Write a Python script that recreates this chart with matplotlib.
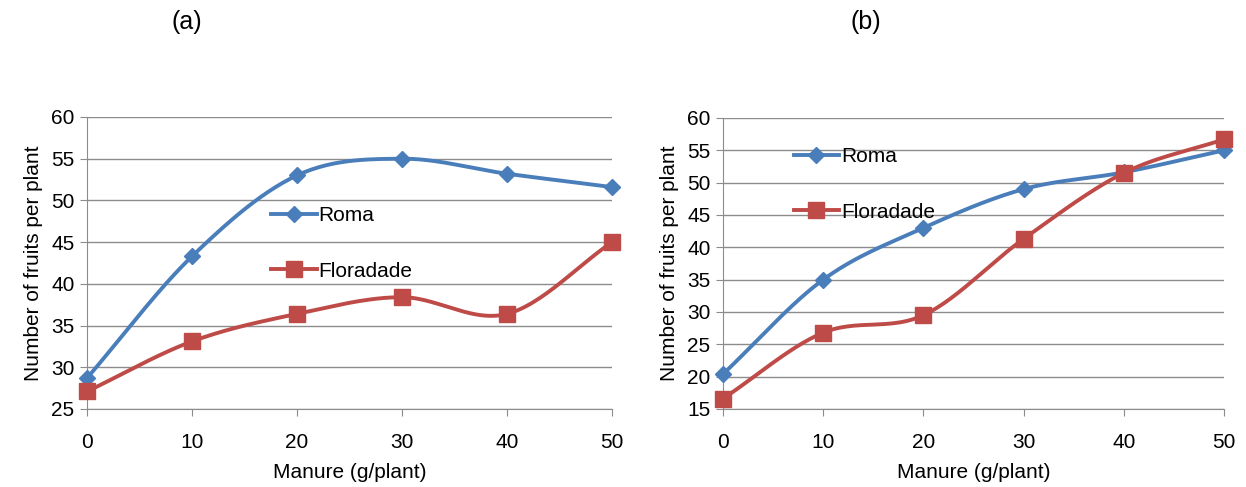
import numpy as np
import matplotlib.pyplot as plt

plt.rcParams['font.family'] = ['Liberation Sans', 'DejaVu Sans']

manure = [0, 10, 20, 30, 40, 50]

roma_a = [28.7, 43.3, 53.0, 55.0, 53.2, 51.6]
flor_a = [27.1, 33.1, 36.4, 38.4, 36.4, 45.0]

roma_b = [20.4, 35.0, 43.0, 49.0, 51.6, 55.0]
flor_b = [16.6, 26.8, 29.5, 41.3, 51.5, 56.7]

BLUE = '#4a7ebb'
RED = '#be4b48'
GRID = '#8c8c8c'


def smooth(x, y, n=30):
    # Excel-style smoothed line (Catmull-Rom through the points)
    x = np.asarray(x, float)
    y = np.asarray(y, float)
    px = np.concatenate([[2 * x[0] - x[1]], x, [2 * x[-1] - x[-2]]])
    py = np.concatenate([[2 * y[0] - y[1]], y, [2 * y[-1] - y[-2]]])
    xs, ys = [], []
    t = np.linspace(0, 1, n)
    for i in range(1, len(px) - 2):
        for p, out in ((px, xs), (py, ys)):
            p0, p1, p2, p3 = p[i - 1], p[i], p[i + 1], p[i + 2]
            out.extend(0.5 * (2 * p1 + (-p0 + p2) * t
                              + (2 * p0 - 5 * p1 + 4 * p2 - p3) * t ** 2
                              + (-p0 + 3 * p1 - 3 * p2 + p3) * t ** 3))
    return np.array(xs), np.array(ys)


def panel(ax, roma, flor, ylim, legend_pos):
    for vals, col, mk, ms, lab in [(roma, BLUE, 'D', 8, 'Roma'),
                                   (flor, RED, 's', 11, 'Floradade')]:
        sx, sy = smooth(manure, vals)
        ax.plot(sx, sy, color=col, lw=2.8, zorder=3, clip_on=False)
        ax.plot(manure, vals, ls='none', marker=mk, ms=ms, color=col,
                zorder=4, clip_on=False)
        ax.plot([], [], color=col, lw=2.8, marker=mk, ms=ms, label=lab)
    ax.set_xlim(0, 50)
    ax.set_ylim(*ylim)
    ax.set_xticks(manure)
    ax.set_yticks(np.arange(ylim[0], ylim[1] + 1, 5))
    ax.yaxis.grid(True, color=GRID, lw=1)
    ax.set_axisbelow(True)
    for s in ['top', 'right']:
        ax.spines[s].set_visible(False)
    for s in ['left', 'bottom']:
        ax.spines[s].set_color(GRID)
    ax.tick_params(axis='both', colors=GRID, labelcolor='black', labelsize=15,
                   length=5)
    ax.tick_params(axis='x', pad=12)
    ax.tick_params(axis='y', pad=4)
    ax.set_xlabel('Manure (g/plant)', fontsize=15, labelpad=8)
    ax.set_ylabel('Number of fruits per plant', fontsize=15, labelpad=6)
    ax.legend(loc='upper left', bbox_to_anchor=legend_pos, frameon=False,
              fontsize=15, labelspacing=1.75, handlelength=2.2,
              handletextpad=0.1, borderpad=0)


fig = plt.figure(figsize=(12.46, 4.87), dpi=100)
ax1 = fig.add_axes([87 / 1246, 1 - 409 / 487, 525 / 1246, 292 / 487])
ax2 = fig.add_axes([723 / 1246, 1 - 409 / 487, 501 / 1246, 291 / 487])

panel(ax1, roma_a, flor_a, (25, 60), (0.33, 0.73))
panel(ax2, roma_b, flor_b, (15, 60), (0.12, 0.935))

fig.text(187 / 1246, 1 - 22 / 487, '(a)', fontsize=18, ha='center', va='center')
fig.text(866 / 1246, 1 - 22 / 487, '(b)', fontsize=18, ha='center', va='center')

fig.savefig('out.png', dpi=100)
